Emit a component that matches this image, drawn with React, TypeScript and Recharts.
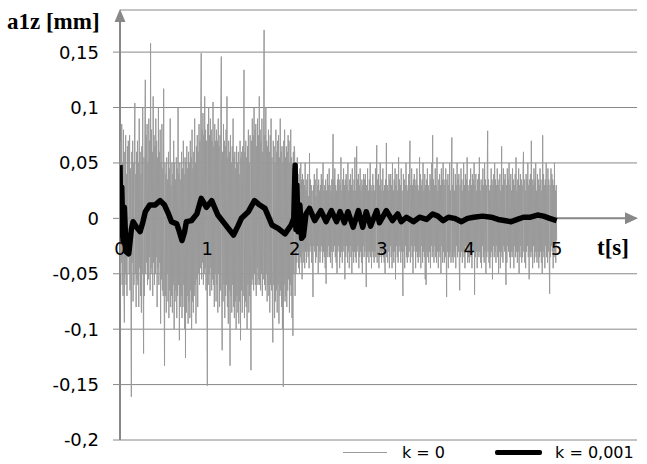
import { CartesianGrid, Legend, Line, LineChart, ReferenceLine, XAxis, YAxis } from 'recharts'

const W = 647
const H = 464
const M = { top: 10, right: 10, bottom: 0, left: 0 }
const X_AXIS_H = 24
const Y_AXIS_W = 120
const Y_MIN = -0.2
const Y_MAX = 0.188
const X_MAX = 5.92
const AXIS = '#888888'

const yTicks = [-0.2, -0.15, -0.1, -0.05, 0, 0.05, 0.1, 0.15]
const xTicks = [0, 1, 2, 3, 4, 5]

// k = 0, sampled every 0.005 s from 0 to 5 s (one row = 0.1 s)
const grayStep = 0.005
const grayValues = [
  0.048, -0.05, 0.07, -0.04, 0.085, -0.06, 0.05, -0.07, 0.08, -0.045, -0.094, 0.06, -0.05, 0.075, -0.06, 0.04, -0.07, 0.065, -0.035, 0.07,
  0.06, -0.05, 0.075, -0.065, 0.045, -0.07, -0.161, 0.06, -0.04, 0.07, -0.075, 0.05, -0.06, 0.065, 0.104, -0.05, 0.04, -0.08, 0.06, -0.055,
  0.07, -0.06, 0.05, -0.08, 0.09, -0.045, 0.06, -0.07, 0.04, -0.085, 0.065, -0.05, 0.1, -0.06, -0.122, 0.055, -0.07, 0.08, 0.125, -0.05,
  0.075, -0.04, 0.085, -0.06, 0.05, -0.055, 0.09, -0.035, 0.07, -0.065, 0.158, -0.05, 0.08, -0.045, 0.06, -0.07, 0.11, -0.04, 0.075, -0.06,
  0.065, -0.05, 0.09, -0.035, 0.07, -0.08, 0.055, -0.045, 0.1, -0.06, 0.06, -0.04, 0.08, -0.095, 0.05, -0.055, 0.085, -0.065, 0.045, -0.07,
  0.117, -0.06, -0.133, 0.05, -0.07, 0.04, -0.085, 0.055, -0.05, 0.035, -0.075, 0.06, -0.09, 0.045, -0.065, 0.09, -0.08, 0.03, -0.07, 0.05,
  -0.085, 0.04, -0.06, 0.07, -0.1, 0.05, -0.075, 0.035, -0.065, 0.055, -0.09, 0.045, -0.07, 0.1, -0.06, 0.04, -0.11, 0.05, -0.08, 0.035,
  -0.07, 0.06, -0.09, 0.045, -0.08, 0.07, -0.06, 0.04, -0.1, 0.055, -0.126, 0.05, -0.085, 0.065, -0.07, 0.045, -0.095, 0.06, -0.075, 0.05,
  -0.09, 0.07, -0.065, 0.055, -0.1, 0.08, -0.075, 0.045, -0.085, 0.06, -0.07, 0.09, -0.06, 0.05, -0.095, 0.065, -0.055, 0.075, -0.08, 0.06,
  -0.05, 0.085, -0.06, 0.07, -0.045, 0.09, 0.149, -0.055, 0.08, -0.04, 0.095, -0.06, 0.075, -0.05, 0.11, -0.045, 0.08, -0.065, 0.07, -0.05,
  -0.151, 0.085, -0.06, 0.1, -0.05, 0.075, -0.07, 0.09, -0.045, 0.08, -0.065, 0.07, -0.055, 0.105, -0.06, 0.065, -0.08, 0.085, -0.05, 0.07,
  -0.075, 0.08, -0.06, 0.07, -0.085, 0.09, -0.05, 0.065, -0.08, 0.075, -0.065, 0.1, 0.146, -0.07, -0.119, 0.06, -0.075, 0.085, -0.06, 0.07,
  -0.09, 0.065, -0.07, 0.08, -0.06, 0.11, -0.08, 0.055, -0.095, 0.07, -0.065, 0.06, -0.133, 0.075, -0.07, 0.05, -0.085, 0.065, -0.06, 0.09,
  -0.08, 0.055, -0.09, 0.06, -0.075, 0.045, -0.1, 0.065, -0.07, 0.05, -0.085, 0.06, -0.095, 0.04, -0.075, 0.07, -0.11, 0.055, -0.065, 0.06,
  -0.085, 0.065, -0.07, 0.05, 0.134, -0.09, 0.06, -0.075, 0.07, -0.08, 0.055, -0.1, 0.065, -0.06, 0.08, -0.085, 0.05, -0.07, 0.075, -0.065,
  -0.137, 0.07, -0.06, 0.09, -0.055, 0.075, -0.065, 0.1, -0.05, 0.08, -0.06, 0.085, -0.07, 0.065, -0.045, 0.09, -0.06, 0.075, -0.055, 0.11,
  -0.06, 0.08, -0.065, 0.07, -0.05, 0.09, -0.07, 0.06, -0.055, 0.085, 0.17, -0.06, 0.075, -0.065, 0.1, -0.05, 0.07, -0.075, 0.065, -0.06,
  0.08, -0.07, 0.06, -0.085, 0.075, -0.06, 0.09, -0.065, 0.055, -0.08, -0.112, 0.07, -0.06, 0.065, -0.09, 0.05, -0.075, 0.08, -0.065, 0.06,
  -0.085, 0.07, -0.06, 0.075, -0.095, 0.055, -0.07, 0.09, -0.065, 0.06, -0.08, 0.065, -0.1, 0.05, -0.152, 0.07, -0.06, 0.08, -0.075, 0.055,
  -0.07, 0.065, -0.08, 0.06, -0.065, 0.075, -0.055, 0.07, -0.085, 0.05, -0.06, 0.08, -0.07, 0.055, -0.09, 0.045, -0.106, 0.06, -0.05, 0.065,
  0.06, -0.07, 0.045, -0.05, 0.035, -0.04, 0.055, -0.03, 0.04, -0.045, 0.03, -0.05, 0.045, -0.035, 0.05, -0.04, 0.035, -0.055, 0.04, -0.03,
  0.035, -0.04, 0.03, -0.045, 0.05, -0.03, 0.025, -0.04, 0.035, -0.03, 0.04, -0.035, 0.02, -0.045, 0.059, -0.03, 0.035, -0.025, 0.03, -0.04,
  0.025, -0.035, -0.071, 0.03, -0.025, 0.04, -0.03, 0.035, -0.04, 0.02, -0.035, 0.045, -0.025, 0.03, -0.05, 0.035, -0.03, 0.025, -0.04, 0.03,
  -0.03, 0.04, -0.025, 0.035, -0.04, 0.05, -0.03, 0.025, -0.035, 0.03, -0.045, 0.035, -0.059, 0.025, -0.03, 0.04, -0.035, 0.03, -0.025, 0.045,
  -0.035, 0.03, -0.04, 0.025, -0.03, 0.035, -0.045, 0.04, 0.076, -0.03, 0.035, -0.025, 0.045, -0.035, 0.03, -0.04, 0.025, -0.05, 0.035, -0.03,
  0.04, -0.025, 0.035, -0.045, 0.03, -0.035, 0.055, -0.03, 0.025, -0.04, 0.035, -0.03, 0.045, -0.025, 0.03, -0.055, 0.035, -0.035, 0.04, -0.025,
  0.03, -0.04, 0.05, -0.03, 0.025, -0.045, 0.035, -0.025, 0.04, -0.035, 0.03, -0.05, 0.045, -0.03, 0.025, -0.04, 0.035, -0.03, 0.055, -0.035,
  0.025, -0.04, 0.065, -0.03, 0.035, -0.025, 0.04, -0.045, 0.03, -0.035, 0.045, -0.03, 0.025, -0.04, 0.035, -0.05, 0.03, -0.025, 0.04, -0.035,
  0.035, -0.03, 0.04, -0.025, -0.062, 0.03, -0.035, 0.045, -0.03, 0.025, -0.04, 0.035, -0.03, 0.05, -0.035, 0.03, -0.045, 0.025, -0.03, 0.04,
  -0.035, 0.03, -0.04, 0.025, -0.03, 0.045, -0.035, 0.03, 0.066, -0.04, 0.035, -0.025, 0.04, -0.045, 0.03, -0.035, 0.05, -0.03, 0.025, -0.04,
  0.035, -0.03, 0.045, -0.035, 0.025, -0.04, 0.03, -0.05, 0.035, -0.025, 0.068, -0.035, 0.03, -0.04, 0.025, -0.03, 0.04, -0.045, 0.035, -0.025,
  0.04, -0.035, 0.03, -0.045, 0.05, -0.03, 0.025, -0.04, 0.035, -0.03, 0.045, -0.055, 0.03, -0.025, 0.04, -0.035, 0.025, -0.04, 0.055, -0.03,
  0.035, -0.025, 0.03, -0.04, 0.045, -0.03, 0.025, -0.035, -0.07, 0.04, -0.03, 0.035, -0.045, 0.03, -0.025, 0.05, -0.035, 0.03, -0.04, 0.025,
  -0.035, 0.04, -0.03, 0.035, 0.07, -0.04, 0.03, -0.025, 0.045, -0.035, 0.03, -0.05, 0.035, -0.03, 0.04, -0.025, 0.03, -0.045, 0.035, -0.03,
  0.045, -0.035, 0.03, -0.04, 0.025, -0.03, 0.055, -0.035, 0.04, -0.045, 0.03, -0.025, 0.035, -0.04, 0.05, -0.03, 0.025, -0.035, 0.04, -0.055,
  0.03, -0.06, 0.035, -0.03, 0.045, -0.035, 0.03, -0.04, 0.025, -0.03, 0.04, -0.045, 0.035, -0.025, 0.05, -0.035, 0.075, -0.03, 0.035, -0.04,
  0.03, -0.025, 0.045, -0.035, 0.03, -0.04, 0.055, -0.03, 0.025, -0.045, 0.035, -0.03, 0.04, -0.035, 0.03, -0.05, 0.045, -0.025, 0.035, -0.04,
  0.05, -0.03, 0.035, -0.04, 0.03, -0.035, 0.045, -0.025, -0.071, 0.035, -0.03, 0.04, -0.045, 0.03, -0.035, 0.05, -0.03, 0.025, -0.04, 0.035,
  0.073, -0.035, 0.03, -0.04, 0.045, -0.03, 0.025, -0.035, 0.04, -0.045, 0.03, -0.025, 0.05, -0.035, 0.035, -0.03, 0.04, -0.04, -0.065, 0.03,
  -0.035, 0.045, -0.03, 0.035, -0.04, 0.025, -0.03, 0.05, -0.035, 0.03, -0.045, 0.04, -0.025, 0.035, -0.03, 0.055, -0.04, 0.03, -0.035, 0.025,
  -0.04, 0.035, -0.03, 0.045, -0.035, 0.03, -0.045, 0.04, -0.025, 0.035, -0.03, 0.05, -0.069, 0.03, -0.035, 0.04, -0.03, 0.025, -0.045, 0.035,
  -0.03, 0.04, -0.035, 0.055, -0.03, 0.025, -0.04, 0.035, -0.045, 0.03, -0.025, 0.045, -0.035, 0.03, -0.04, 0.05, -0.03, 0.035, -0.05, 0.03,
  -0.035, 0.04, 0.079, -0.03, 0.035, -0.04, 0.025, -0.045, 0.03, -0.035, 0.045, -0.03, 0.035, -0.055, 0.03, -0.025, 0.04, -0.035, 0.05, -0.03,
  0.035, -0.04, 0.03, -0.025, 0.045, -0.035, 0.03, -0.05, 0.035, -0.03, 0.04, -0.045, 0.025, -0.03, 0.065, -0.035, 0.03, -0.04, 0.045, -0.025,
  0.035, -0.03, 0.04, -0.035, -0.06, 0.03, -0.04, 0.045, -0.025, 0.035, -0.03, 0.05, -0.035, 0.03, -0.045, 0.04, -0.03, 0.025, -0.035, 0.045,
  -0.03, 0.035, -0.045, 0.03, -0.025, 0.04, -0.035, 0.055, -0.03, 0.025, -0.04, 0.035, -0.03, 0.045, -0.05, 0.03, -0.035, 0.04, -0.025, 0.035,
  -0.04, 0.03, -0.035, 0.045, 0.06, -0.03, 0.035, -0.04, 0.025, -0.045, 0.04, -0.03, 0.035, -0.025, 0.05, -0.035, 0.03, -0.055, 0.035, -0.03,
  0.04, -0.035, 0.07, -0.03, 0.035, -0.045, 0.03, -0.025, 0.045, -0.04, 0.035, -0.03, 0.05, -0.035, 0.025, -0.04, 0.04, -0.03, 0.035, -0.045,
  0.03, -0.035, 0.045, -0.03, 0.035, -0.04, 0.025, -0.05, 0.075, -0.03, 0.04, -0.035, 0.03, -0.045, 0.035, -0.025, 0.05, -0.035, 0.03, -0.04,
  0.045, -0.03, 0.035, -0.04, -0.068, 0.03, -0.035, 0.045, -0.025, 0.04, -0.03, 0.035, -0.045, 0.03, -0.035, 0.05, -0.03, 0.025, -0.04, 0.03,
  -0.02,
]

// k = 0,001
const blackTimes = [
  0, 0.01, 0.02, 0.035, 0.05, 0.07, 0.1, 0.13, 0.15, 0.19, 0.23, 0.26, 0.29, 0.34, 0.4,
  0.46, 0.51, 0.55, 0.59, 0.65, 0.68, 0.71, 0.74, 0.76, 0.82, 0.88, 0.93, 0.99, 1.05,
  1.12, 1.2, 1.25, 1.3, 1.35, 1.39, 1.47, 1.54, 1.6, 1.66, 1.74, 1.81, 1.89, 1.96, 1.99,
  2.005, 2.015, 2.025, 2.04, 2.06, 2.08, 2.1, 2.13, 2.17, 2.23, 2.3, 2.36, 2.42, 2.48,
  2.52, 2.57, 2.61, 2.67, 2.73, 2.78, 2.82, 2.87, 2.94, 2.97, 3.05, 3.12, 3.18, 3.22,
  3.28, 3.36, 3.43, 3.51, 3.58, 3.64, 3.7, 3.76, 3.83, 3.91, 3.98, 4.05, 4.15, 4.25,
  4.33, 4.4, 4.48, 4.55, 4.62, 4.7, 4.78, 4.85, 4.92, 5.0,
]
const blackValues = [
  0.048, -0.015, 0.028, -0.02, 0.01, -0.03, -0.032, -0.01, -0.003, -0.008, -0.012, -0.004, 0.006, 0.012, 0.012,
  0.016, 0.012, 0.005, -0.003, -0.005, -0.012, -0.02, -0.012, -0.003, -0.002, 0.004, 0.018, 0.01, 0.016,
  0.003, -0.005, -0.01, -0.015, -0.007, 0.0, 0.006, 0.016, 0.012, 0.009, -0.006, -0.009, -0.014, -0.006, 0.0,
  0.048, -0.01, 0.03, -0.012, 0.012, -0.018, -0.016, 0.004, 0.009, -0.002, 0.007, -0.003, 0.007, -0.003,
  0.006, -0.004, 0.006, -0.008, 0.007, -0.008, 0.006, -0.007, 0.007, -0.004, 0.007, -0.002, 0.004, -0.003,
  0.001, -0.003, 0.001, -0.001, 0.004, 0.002, -0.002, 0.001, 0.0, -0.003, 0.0, 0.001, 0.002, 0.001,
  -0.001, -0.002, -0.003, -0.001, 0.001, 0.001, 0.003, 0.002, 0.0, -0.002,
]

const grayData = grayValues.map((v, i) => ({ t: +(i * grayStep).toFixed(3), v }))
const blackData = blackTimes.map((t, i) => ({ t, v: blackValues[i] }))

const fmt = (v: number) => String(v).replace('.', ',')
const plotH = H - M.top - M.bottom - X_AXIS_H
const zeroY = M.top + (plotH * Y_MAX) / (Y_MAX - Y_MIN)

const FONT = 'DejaVu Sans'

function XTick({ x, payload }: any) {
  return (
    <text x={x} y={zeroY + 36.5} textAnchor="middle" fontFamily={FONT} fontSize={18} fill="#000">
      {fmt(payload.value)}
    </text>
  )
}

function YArrow(p: any) {
  const top = Math.min(p.y1, p.y2)
  const bottom = Math.max(p.y1, p.y2)
  return (
    <g>
      <line x1={p.x1} x2={p.x1} y1={bottom} y2={top + 8} stroke={AXIS} strokeWidth={2} />
      <polygon points={`${p.x1},${top - 1} ${p.x1 - 5.5},${top + 12} ${p.x1 + 5.5},${top + 12}`} fill={AXIS} />
    </g>
  )
}

function XArrow(p: any) {
  const left = Math.min(p.x1, p.x2)
  const right = Math.max(p.x1, p.x2)
  return (
    <g>
      <line x1={left} x2={right - 8} y1={p.y1} y2={p.y1} stroke={AXIS} strokeWidth={2} />
      <polygon points={`${right + 1},${p.y1} ${right - 12},${p.y1 - 6} ${right - 12},${p.y1 + 6}`} fill={AXIS} />
    </g>
  )
}

function LegendContent({ payload }: any) {
  return (
    <div style={{ display: 'flex', alignItems: 'center', fontFamily: FONT, fontSize: 16, color: '#000' }}>
      {(payload || []).map((item: any, i: number) => (
        <div key={item.value} style={{ display: 'flex', alignItems: 'center', marginLeft: i === 0 ? 13 : 50 }}>
          <div
            style={{
              width: i === 0 ? 44 : 47,
              height: i === 0 ? 1 : 5,
              background: item.color,
              borderRadius: i === 0 ? 0 : 2,
              marginRight: i === 0 ? 15 : 13,
            }}
          />
          <span>{item.value}</span>
        </div>
      ))}
    </div>
  )
}

export default function App() {
  return (
    <div style={{ position: 'absolute', left: 0, top: 0, width: W, height: H, background: '#fff' }}>
      <LineChart width={W} height={H} margin={M}>
        <CartesianGrid horizontal vertical={false} stroke={AXIS} strokeWidth={1} />
        <XAxis
          dataKey="t"
          type="number"
          domain={[0, X_MAX]}
          ticks={xTicks}
          allowDataOverflow
          axisLine={false}
          tickLine={false}
          height={X_AXIS_H}
          tick={<XTick />}
        />
        <YAxis
          type="number"
          domain={[Y_MIN, Y_MAX]}
          ticks={yTicks}
          allowDataOverflow
          width={Y_AXIS_W}
          axisLine={false}
          tickLine={{ stroke: AXIS }}
          tickSize={7}
          tickMargin={14}
          tickFormatter={fmt}
          tick={{ fontFamily: FONT, fontSize: 18, fill: '#000' }}
        />
        <ReferenceLine x={0} stroke={AXIS} shape={YArrow} />
        <ReferenceLine y={0} stroke={AXIS} shape={XArrow} />
        <Line
          data={grayData}
          dataKey="v"
          name="k = 0"
          type="linear"
          stroke="#9a9a9a"
          strokeWidth={1}
          dot={false}
          isAnimationActive={false}
        />
        <Line
          data={blackData}
          dataKey="v"
          name="k = 0,001"
          type="linear"
          stroke="#000"
          strokeWidth={5.5}
          strokeLinejoin="round"
          dot={false}
          isAnimationActive={false}
        />
        <Legend
          layout="horizontal"
          verticalAlign="middle"
          align="center"
          wrapperStyle={{ top: 443, left: 330, width: 317, height: 20 }}
          content={<LegendContent />}
        />
        <text x={7} y={29} fontFamily="Liberation Serif" fontWeight="bold" fontSize={23} fill="#000">
          a1z [mm]
        </text>
        <text x={597} y={255} fontFamily="Liberation Serif" fontWeight="bold" fontSize={23} fill="#000">
          t[s]
        </text>
      </LineChart>
    </div>
  )
}
